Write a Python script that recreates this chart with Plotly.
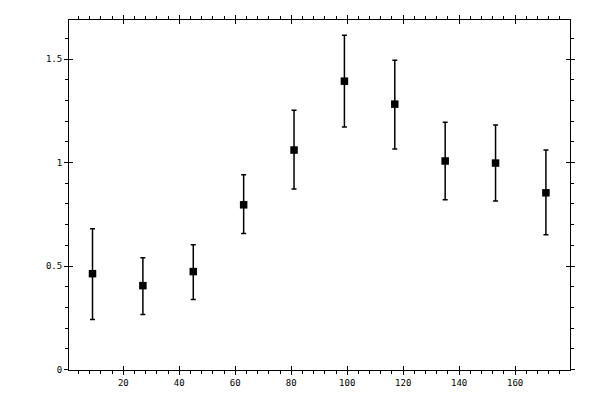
import plotly.graph_objects as go

# bin centres and measured values with asymmetric errors
x_vals = [9, 27, 45, 63, 81, 99, 117, 135, 153, 171]
y_vals = [0.463, 0.405, 0.473, 0.796, 1.061, 1.394, 1.283, 1.008, 0.998, 0.854]
err_up = [0.217, 0.135, 0.130, 0.145, 0.193, 0.222, 0.212, 0.188, 0.184, 0.207]
err_down = [0.222, 0.140, 0.135, 0.139, 0.188, 0.222, 0.217, 0.188, 0.183, 0.203]

x_ticks = [20, 40, 60, 80, 100, 120, 140, 160]
y_ticks = [0, 0.5, 1, 1.5]
y_ticklabels = ["0", "0.5", "1", "1.5"]

fig = go.Figure()
fig.add_scatter(
    x=x_vals,
    y=y_vals,
    mode="markers",
    marker=dict(symbol="square", size=7.5, color="black"),
    error_y=dict(
        type="data",
        symmetric=False,
        array=err_up,
        arrayminus=err_down,
        color="black",
        thickness=1.5,
        width=2.5
        )
    )
# invisible trace on the overlay axes so they get drawn
fig.add_scatter(
    x=x_vals,
    y=y_vals,
    mode="markers",
    marker=dict(opacity=0),
    xaxis="x2",
    yaxis="y2",
    hoverinfo="skip"
    )

axis_font = dict(family="DejaVu Sans Mono", size=9, color="black")
x_range = [0.6, 179.6]
y_range = [-0.003, 1.69]

# the page has an 8px body margin, so margins are shifted to compensate
fig.update_layout(
    width=600,
    height=400,
    showlegend=False,
    plot_bgcolor="white",
    paper_bgcolor="white",
    margin=dict(l=61, r=38, t=7, b=38),
    xaxis=dict(
        range=x_range,
        tickvals=x_ticks,
        ticks="outside",
        ticklen=4,
        tickwidth=1,
        tickcolor="black",
        minor=dict(dtick=4, ticks="outside", ticklen=3, tickcolor="black", tickwidth=1),
        showline=True,
        linecolor="black",
        linewidth=1,
        mirror="ticks",
        showgrid=False,
        zeroline=False,
        tickfont=axis_font
        ),
    yaxis=dict(
        range=y_range,
        tickvals=y_ticks,
        ticktext=y_ticklabels,
        ticks="outside",
        ticklen=4,
        tickwidth=1,
        tickcolor="black",
        minor=dict(dtick=0.1, ticks="outside", ticklen=3, tickcolor="black", tickwidth=1),
        showline=True,
        linecolor="black",
        linewidth=1,
        mirror="ticks",
        showgrid=False,
        zeroline=False,
        tickfont=axis_font
        ),
    xaxis2=dict(
        overlaying="x",
        range=x_range,
        tickvals=x_ticks,
        ticks="inside",
        ticklen=4,
        tickwidth=1,
        tickcolor="black",
        mirror="ticks",
        showticklabels=False,
        showgrid=False,
        zeroline=False
        ),
    yaxis2=dict(
        overlaying="y",
        range=y_range,
        tickvals=y_ticks,
        ticks="inside",
        ticklen=4,
        tickwidth=1,
        tickcolor="black",
        mirror="ticks",
        showticklabels=False,
        showgrid=False,
        zeroline=False
        )
    )

fig.write_html("out.html")
